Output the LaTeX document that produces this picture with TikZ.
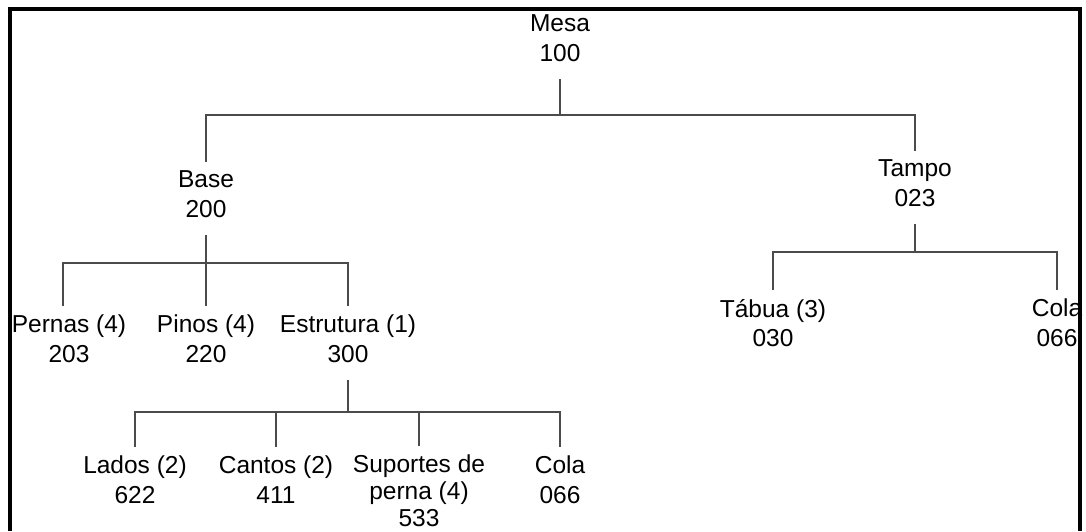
\documentclass[tikz,border=0pt]{standalone}
\usepackage{fontspec}
\setmainfont{Liberation Sans}
\definecolor{linkgray}{RGB}{75, 75, 75}
\usetikzlibrary{positioning}

\begin{document}
\begin{tikzpicture}[x=1pt, y=-1pt,
  part/.style={anchor=north, align=center, inner sep=0pt, outer ysep=9pt,
    font=\fontsize{24.5}{29.5}\selectfont, execute at end node=\strut},
  link/.style={line width=2.2pt, linkgray}]
  \useasboundingbox (0,0) rectangle (1086,531);
  \draw[line width=3.5pt] (10,531) -- (10,9) -- (1080,9) -- (1080,531);

  \node[part] (mesa) at (560,6) {Mesa\\100};
  \node[part] (base) at (206,162) {Base\\200};
  \node[part] (tampo) at (915,151) {Tampo\\023};

  \node[part] (pernas) at (69,306) {Pernas (4)\\203};
  \node[part] (pinos) at (206,306) {Pinos (4)\\220};
  \node[part] (estrutura) at (348,306) {Estrutura (1)\\300};

  \node[part] (lados) at (135,447) {Lados (2)\\622};
  \node[part] (cantos) at (276,447) {Cantos (2)\\411};
  \node[part, font=\fontsize{24.5}{27}\selectfont] (suportes) at (419,446) {Suportes de\\perna (4)\\533};
  \node[part] (colaest) at (560,447) {Cola\\066};

  \node[part] (tabua) at (773,290) {Tábua (3)\\030};
  \node[part] (colatampo) at (1057,290) {Cola\\066};

  \coordinate (mesabus) at (560,115);
  \coordinate (basebus) at (206,263);
  \coordinate (estbus) at (348,412);
  \coordinate (tampobus) at (915,252);

  \draw[link] (mesa.south) -- (mesabus);
  \draw[link] (base.north) |- (mesabus) -| (tampo.north);

  \draw[link] (base.south) -- (basebus);
  \draw[link] ([xshift=-6pt]pernas.north) |- (basebus) -| (estrutura.north);
  \draw[link] (pinos.north) -- (basebus);

  \draw[link] (estrutura.south) -- (estbus);
  \draw[link] (lados.north) |- (estbus) -| (colaest.north);
  \draw[link] (cantos.north) -- (cantos.north |- estbus);
  \draw[link] (suportes.north) -- (suportes.north |- estbus);

  \draw[link] (tampo.south) -- (tampobus);
  \draw[link] (tabua.north) |- (tampobus) -| (colatampo.north);
\end{tikzpicture}
\end{document}
